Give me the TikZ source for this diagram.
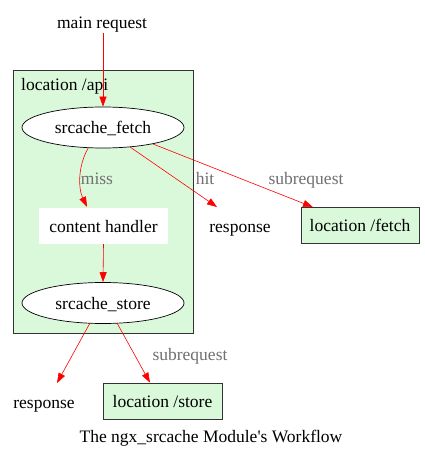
\documentclass[tikz,border=0pt]{standalone}
\usepackage{fontspec}
\setmainfont{Liberation Serif}[Ligatures=TeXOff]
\usetikzlibrary{arrows.meta,calc,shapes.geometric}
\definecolor{cl}{HTML}{DAF9DA}
\definecolor{lblgray}{HTML}{707070}
\begin{document}
\begin{tikzpicture}[x=1pt,y=-1pt,
  every node/.style={font=\fontsize{17.5}{20}\selectfont, inner sep=0pt, text height=13pt, text depth=1pt},
  edge/.style={draw=red, line width=0.6pt, -{Triangle[length=10pt,width=7pt]}},
  ell/.style={ellipse, draw=black, fill=white, line width=0.7pt, minimum width=162pt, minimum height=41pt},
  locbox/.style={rectangle, draw=black!80, fill=cl, line width=0.7pt, minimum width=118pt, minimum height=36pt},
  lbl/.style={text=lblgray},
  plain/.style={}
]
\useasboundingbox[fill=white] (0,0) rectangle (424,453);
% cluster
\node[rectangle, draw=black!80, fill=cl, line width=0.7pt, minimum width=180pt, minimum height=263pt, text height=, text depth=] (cluster) at (103,201.5) {};
\node[anchor=west] (cltitle) at (21,84) {location /api};

\node[plain] (main) at (102,22) {main request};
\node[ell] (fetch) at (103,127.5) {srcache\_fetch};
\node[rectangle, fill=white, minimum width=129pt, minimum height=36pt] (handler) at (103.5,226) {content handler};
\node[ell] (store) at (103,303) {srcache\_store};
\node[plain] (resp1) at (240,226) {response};
\node[locbox] (fetchloc) at (360,225.5) {location /fetch};
\node[plain] (resp2) at (44,402) {response};
\node[locbox, minimum width=119pt] (storeloc) at (162.5,401) {location /store};
\node[plain] (title) at (211,436) {The ngx\_srcache Module's Workflow};

% edges
\draw[edge] ($(main.south)+(1,4)$) -- (fetch.north);
\draw[edge] ($(fetch.south)+(-15,0)$) .. controls (78,166) and (78,188) .. ($(handler.north)+(-16.5,-1)$);
\node[lbl] (lmiss) at (97,178) {miss};
\draw[edge] ($(fetch)+(27,19.5)$) -- ($(resp1)+(-23,-19)$);
\node[lbl] (lhit) at (205,178) {hit};
\draw[edge] ($(fetch)+(50,16.5)$) -- ($(fetchloc.north)+(-47,0)$);
\node[lbl] (lsub1) at (306,178) {subrequest};
\draw[edge] (handler.south) -- (store.north);
\draw[edge] ($(store)+(-13,20)$) -- ($(resp2)+(13,-19)$);
\draw[edge] ($(store)+(14,20)$) -- ($(storeloc.north)+(-12.5,0)$);
\node[lbl] (lsub2) at (190,354) {subrequest};
\end{tikzpicture}
\end{document}
